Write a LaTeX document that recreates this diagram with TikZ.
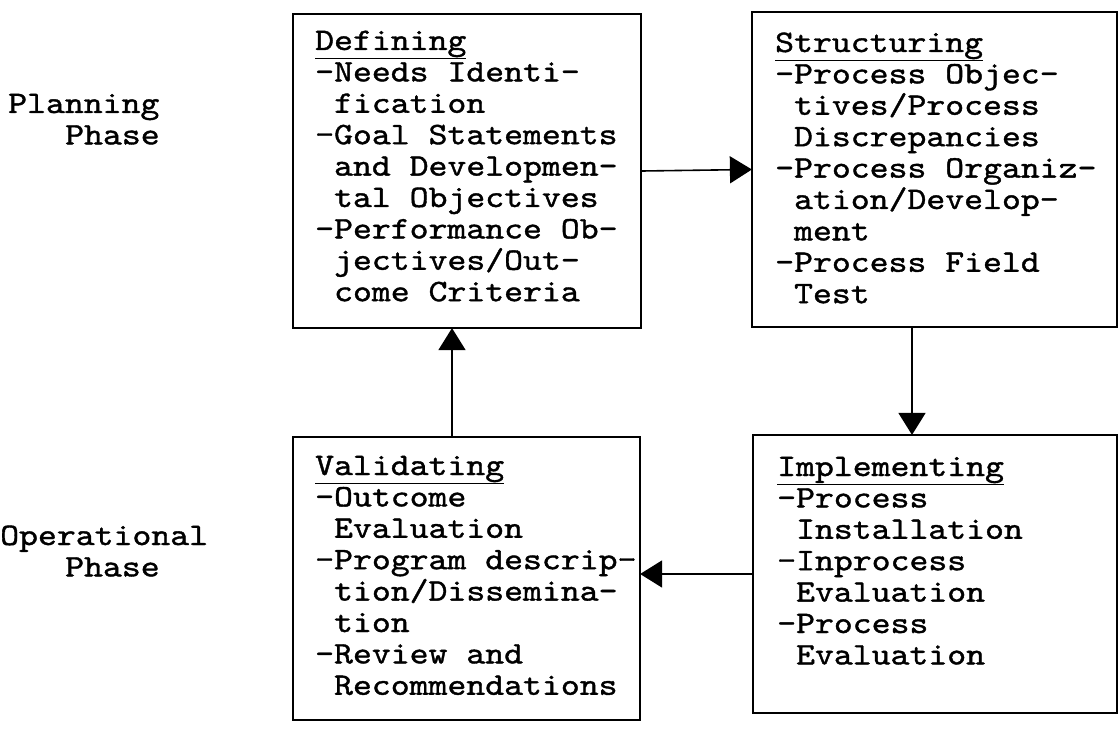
\documentclass[tikz,border=0pt]{standalone}
\usepackage{fontspec}
\setmonofont{lmmono10-regular.otf}[FakeStretch=1.15,FakeBold=1.2]
\usetikzlibrary{arrows.meta}
\tikzset{
  stagebox/.style={draw, line width=2.2pt, rectangle, inner sep=0pt},
  stagetext/.style={anchor=base west, inner sep=0pt, align=left, text width=345pt,
    font=\ttfamily\fontsize{31.3}{31.4}\selectfont},
  phasetext/.style={anchor=base west, inner sep=0pt, align=left, text width=230pt,
    font=\ttfamily\fontsize{31.3}{31.4}\selectfont},
  flow/.style={line width=1.6pt, -{Triangle[length=22pt,width=27pt]}, shorten >=-1pt}
}
\newcommand{\ind}{\phantom{-}}
\newcommand{\ws}{\phantom{x}}
\newcommand{\hd}[1]{\underline{#1}}
\begin{document}
\begin{tikzpicture}[x=1pt,y=-1pt]
\useasboundingbox (0,0) rectangle (1119,730);
% boxes
\node[stagebox, minimum width=348pt, minimum height=314pt] (def) at (467,171) {};
\node[stagebox, minimum width=365pt, minimum height=315pt] (str) at (934.5,169.5) {};
\node[stagebox, minimum width=364pt, minimum height=278pt] (imp) at (935,574) {};
\node[stagebox, minimum width=347pt, minimum height=283pt] (val) at (466.5,578.5) {};
% texts
\node[stagetext] (deft) at (315,50) {\hd{Defining}\\
-Needs\ws Identi-\\ \ind fication\\
-Goal\ws Statements\\ \ind and\ws Developmen-\\ \ind tal\ws Objectives\\
-Performance\ws Ob-\\ \ind jectives/Out-\\ \ind come\ws Criteria};
\node[stagetext] (strt) at (775,52) {\hd{Structuring}\\
-Process\ws Objec-\\ \ind tives/Process\\ \ind Discrepancies\\
-Process\ws Organiz-\\ \ind ation/Develop-\\ \ind ment\\
-Process\ws Field\\ \ind Test};
\node[stagetext] (impt) at (777,476) {\hd{Implementing}\\
-Process\\ \ind Installation\\
-Inprocess\\ \ind Evaluation\\
-Process\\ \ind Evaluation};
\node[stagetext] (valt) at (315,475) {\hd{Validating}\\
-Outcome\\ \ind Evaluation\\
-Program\ws descrip-\\ \ind tion/Dissemina-\\ \ind tion\\
-Review\ws and\\ \ind Recommendations};
% phase labels
\node[phasetext] (plan) at (8,113) {Planning\\\hspace*{57pt}Phase};
\node[phasetext] (oper) at (0,545) {Operational\\\hspace*{65pt}Phase};
% connectors
\draw[flow] (def.east) -- (str.west);
\draw[flow] ([xshift=-22.5pt]str.south) -- ([xshift=-23pt]imp.north);
\draw[flow] (imp.west) -- (imp.west -| val.east);
\draw[flow] ([xshift=-14.5pt]val.north) -- ([xshift=-15pt]def.south);
\end{tikzpicture}
\end{document}
